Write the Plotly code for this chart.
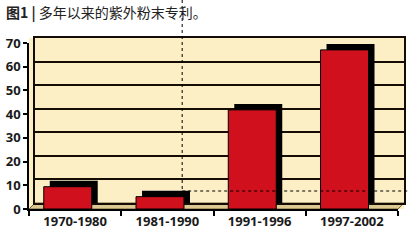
import plotly.graph_objects as go

categories = ["1970-1980", "1981-1990", "1991-1996", "1997-2002"]
values = [9.4, 5.2, 41.8, 67.1]
y_ticks = [0, 10, 20, 30, 40, 50, 60, 70]
title_bold = "图1 | "
title_rest = "多年以来的紫外粉末专利。"

RED = "#D0101C"
WALL = "#FCEFC6"
FLOOR = "#DCC890"
LINE = "#140c05"

W, H = 411, 240
L, R, T, B = 29, 5, 38, 31
pw, ph = W - L - R, H - T - B   # 377 x 171

fig = go.Figure()

# invisible trace to create the back-wall subplot (gridlines)
fig.add_trace(go.Scatter(x=[None], y=[None], xaxis="x", yaxis="y",
                         showlegend=False, hoverinfo="skip"))

# 3D depth (black) behind bars
fig.add_trace(go.Bar(x=categories, y=values, base=2.5, offset=-0.275, width=0.52,
                     marker=dict(color="black", line=dict(width=0)),
                     xaxis="x2", yaxis="y2", showlegend=False, hoverinfo="skip"))
# front face of bars
fig.add_trace(go.Bar(x=categories, y=values, offset=-0.34, width=0.52,
                     marker=dict(color=RED, line=dict(color="black", width=1)),
                     xaxis="x2", yaxis="y2", showlegend=False))

font_tick = dict(family="Open Sans", size=13, color="#1a1a1a", weight="bold")

fig.update_layout(
    width=W, height=H,
    margin=dict(l=L, r=R, t=T, b=B, pad=0),
    paper_bgcolor="white", plot_bgcolor="rgba(0,0,0,0)",
    barmode="overlay",
    xaxis=dict(domain=[6 / pw, 1], range=[-0.5, 3.5], anchor="y",
               showgrid=False, zeroline=False, showticklabels=False, ticks="",
               showline=True, mirror=True, linecolor=LINE, linewidth=2),
    yaxis=dict(domain=[6 / ph, 1], range=[0, 70], anchor="x",
               tickvals=y_ticks, showgrid=True, gridcolor=LINE, gridwidth=2,
               zeroline=False, showticklabels=False, ticks="",
               showline=True, mirror=True, linecolor=LINE, linewidth=2),
    xaxis2=dict(domain=[0, (pw - 6) / pw], range=[-0.5, 3.5], anchor="y2",
                type="category", categoryarray=categories,
                showgrid=False, zeroline=False,
                ticks="outside", tickson="boundaries", ticklen=5,
                tickcolor="black", tickwidth=1.5,
                showline=True, linecolor="black", linewidth=1.5,
                tickfont=font_tick),
    yaxis2=dict(domain=[0, (ph - 5) / ph], range=[0, 70], anchor="x2",
                tickvals=y_ticks, showgrid=False, zeroline=False,
                ticks="outside", ticklen=4, tickcolor="black", tickwidth=1.5,
                showline=True, linecolor="black", linewidth=1.5,
                tickfont=font_tick),
    font=dict(family="Open Sans"),
)

# back wall + left wall (beige), drawn beneath everything
fig.add_shape(type="rect", xref="paper", yref="paper",
              x0=0, x1=1, y0=0, y1=1, fillcolor=WALL,
              line=dict(width=0), layer="below")
# floor strip between front and back wall
fig.add_shape(type="path", xref="paper", yref="paper",
              path=f"M 0 0 L {(pw - 6) / pw} 0 L 1 {6 / ph} L {6 / pw} {6 / ph} Z",
              fillcolor=FLOOR, line=dict(color="#6e6040", width=1), layer="below")

fig.add_annotation(
    text=f"<b>{title_bold}</b>{title_rest}",
    xref="paper", yref="paper", x=-L / pw + 4 / pw, y=1 + (T - 12) / ph,
    xanchor="left", yanchor="middle", showarrow=False,
    font=dict(family="Noto Sans CJK SC", size=14, color="#222222"),
)

# dotted guide lines (page artefacts in the original)
fig.add_shape(type="line", xref="paper", yref="paper",
              x0=(183 - L) / pw, x1=(183 - L) / pw,
              y0=1 + T / ph, y1=(209 - 191) / ph,
              line=dict(color="black", width=1, dash="dot"), layer="above")
fig.add_shape(type="line", xref="paper", yref="paper",
              x0=(183 - L) / pw, x1=(W - L) / pw,
              y0=(209 - 191) / ph, y1=(209 - 191) / ph,
              line=dict(color="black", width=1, dash="dot"), layer="above")

fig.write_html("out.html")
